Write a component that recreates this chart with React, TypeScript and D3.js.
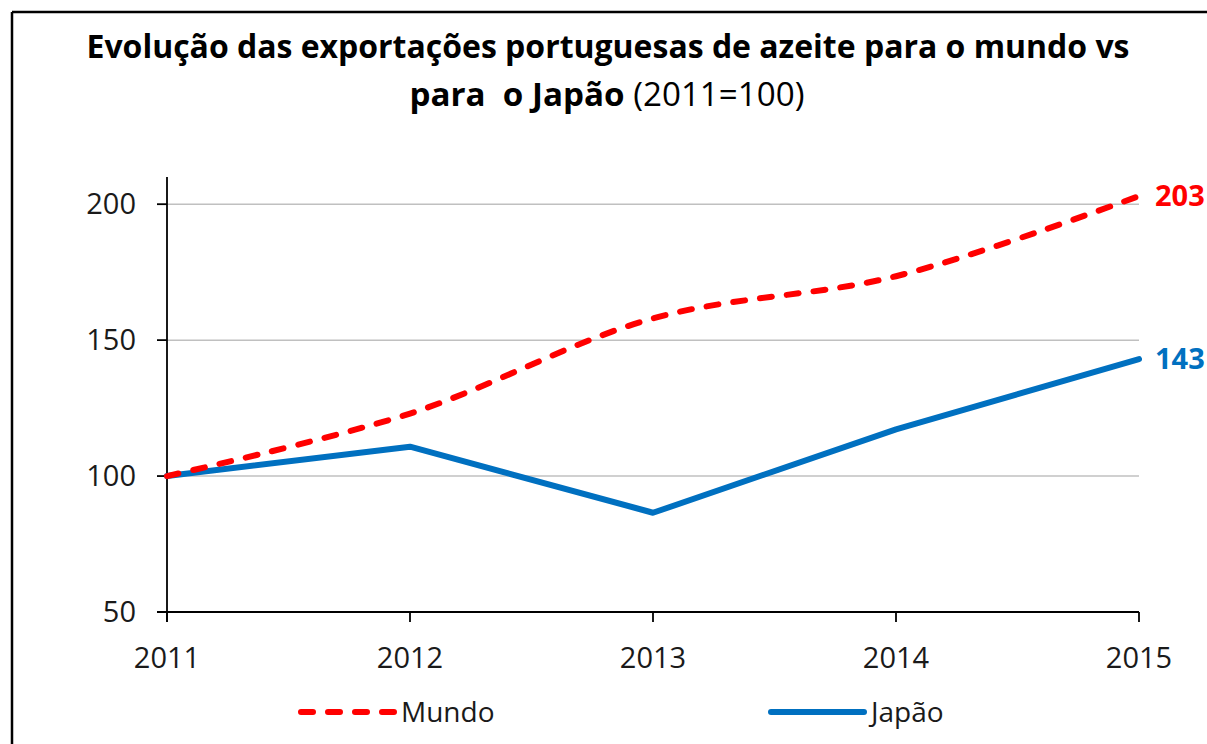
import React from "react";
import * as d3 from "d3";

const years = ["2011", "2012", "2013", "2014", "2015"];
const mundo = [100, 123, 158, 173.5, 203];
const japao = [100, 110.8, 86.5, 117.2, 143];
const yTicks = [50, 100, 150, 200];
const gridTicks = [100, 150, 200];
const endLabels = ["203", "143"];

const W = 1207;
const H = 744;
const FONT = "'Open Sans', 'Noto Sans', sans-serif";

export default function App() {
  const x = d3.scalePoint<string>().domain(years).range([167, 1139]);
  const y = d3.scaleLinear().domain([50, 210]).range([612, 177]);

  const lineSmooth = d3
    .line<number>()
    .x((_, i) => x(years[i]) as number)
    .y((d) => y(d))
    .curve(d3.curveCatmullRom.alpha(0.5));
  const lineStraight = d3
    .line<number>()
    .x((_, i) => x(years[i]) as number)
    .y((d) => y(d));

  const x0 = x(years[0]) as number;
  const x1 = x(years[years.length - 1]) as number;

  return (
    <svg
      width={W}
      height={H}
      style={{ position: "absolute", left: 0, top: 0, display: "block", background: "#fff" }}
      fontFamily={FONT}
    >
      <rect x={0} y={0} width={W} height={H} fill="#fff" />
      {/* border */}
      <line x1={12} y1={12} x2={W} y2={12} stroke="#000" strokeWidth={2.5} />
      <line x1={12} y1={12} x2={12} y2={H} stroke="#000" strokeWidth={2.5} />

      {/* title */}
      <text
        x={608}
        y={58}
        textAnchor="middle"
        fontSize={33}
        fontWeight="bold"
        fill="#000"
        textLength={1043}
        lengthAdjust="spacingAndGlyphs"
      >
        Evolução das exportações portuguesas de azeite para o mundo vs
      </text>
      <text
        x={607}
        y={106}
        textAnchor="middle"
        fontSize={33}
        fill="#000"
        xmlSpace="preserve"
        style={{ whiteSpace: "pre" }}
        textLength={395}
        lengthAdjust="spacingAndGlyphs"
      >
        <tspan fontWeight="bold">{"para  o Japão"}</tspan>
        <tspan>{" (2011=100)"}</tspan>
      </text>

      {/* gridlines */}
      {gridTicks.map((t) => (
        <line key={t} x1={x0} x2={x1} y1={y(t)} y2={y(t)} stroke="#c0c0c0" strokeWidth={1.5} />
      ))}

      {/* y axis */}
      <line x1={x0} x2={x0} y1={177} y2={y(50) + 10} stroke="#000" strokeWidth={1.8} />
      {yTicks.map((t) => (
        <g key={t}>
          <line x1={x0 - 10} x2={x0} y1={y(t)} y2={y(t)} stroke="#000" strokeWidth={1.8} />
          <text x={136} y={y(t)} dy="0.35em" textAnchor="end" fontSize={29} fill="#1a1a1a">
            {t}
          </text>
        </g>
      ))}

      {/* x axis */}
      <line x1={x0 - 10} x2={x1} y1={y(50)} y2={y(50)} stroke="#000" strokeWidth={1.8} />
      {years.map((yr) => (
        <g key={yr}>
          <line
            x1={x(yr) as number}
            x2={x(yr) as number}
            y1={y(50)}
            y2={y(50) + 10}
            stroke="#000"
            strokeWidth={1.8}
          />
          <text x={x(yr) as number} y={668} textAnchor="middle" fontSize={29} fill="#1a1a1a">
            {yr}
          </text>
        </g>
      ))}

      {/* series */}
      <path
        d={lineStraight(japao) || ""}
        fill="none"
        stroke="#0070C0"
        strokeWidth={6}
        strokeLinejoin="round"
        strokeLinecap="round"
      />
      <path
        d={lineSmooth(mundo) || ""}
        fill="none"
        stroke="#FF0000"
        strokeWidth={6}
        strokeDasharray="12 15"
        strokeLinecap="round"
      />

      {/* end labels */}
      <text x={1155} y={y(mundo[4])} dy="0.35em" fontSize={29} fontWeight="bold" fill="#FF0000">
        {endLabels[0]}
      </text>
      <text x={1155} y={y(japao[4])} dy="0.35em" fontSize={29} fontWeight="bold" fill="#0070C0">
        {endLabels[1]}
      </text>

      {/* legend */}
      <line
        x1={301}
        x2={394}
        y1={712}
        y2={712}
        stroke="#FF0000"
        strokeWidth={6}
        strokeDasharray="12 15"
        strokeLinecap="round"
      />
      <text x={401} y={712} dy="0.35em" fontSize={28} fill="#1a1a1a">
        Mundo
      </text>
      <line
        x1={771}
        x2={864}
        y1={712}
        y2={712}
        stroke="#0070C0"
        strokeWidth={6}
        strokeLinecap="round"
      />
      <text x={871} y={712} dy="0.35em" fontSize={28} fill="#1a1a1a">
        Japão
      </text>
    </svg>
  );
}
